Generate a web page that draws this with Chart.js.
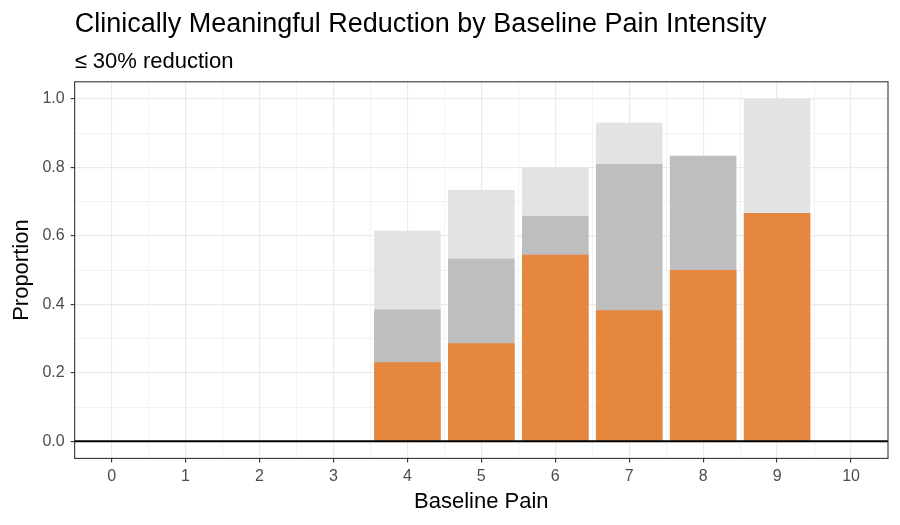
<!DOCTYPE html>
<html>
<head>
<meta charset="utf-8">
<script src="https://cdn.jsdelivr.net/npm/chart.js@4.4.1/dist/chart.umd.min.js"></script>
<style>
  body { margin: 0; background: #fff; }
  #wrap { width: 900px; height: 525px; }
</style>
</head>
<body>
<div id="wrap"><canvas id="painChart" width="900" height="525"></canvas></div>
<script>
// baseline pain scores that have bars
const painLevels = [4, 5, 6, 7, 8, 9];
// proportions, drawn on top of each other (orange in front)
const orangeVals = [0.231, 0.286, 0.545, 0.383, 0.5, 0.667];
const midGrayVals = [0.385, 0.533, 0.658, 0.81, 0.834, null];
const lightGrayVals = [0.615, 0.734, 0.8, 0.931, null, 1.0];

const xTicks = [0, 1, 2, 3, 4, 5, 6, 7, 8, 9, 10];
const yTicks = [0, 0.2, 0.4, 0.6, 0.8, 1.0];

const FONT = "'Liberation Sans', Arial, sans-serif";

function toPoints(vals) {
  return painLevels.map((p, i) => ({ x: p, y: vals[i] }));
}

// ticks: majors get labels, minors sit halfway between
function majorMinor(majors) {
  const step = majors[1] - majors[0];
  const out = [];
  majors.forEach((v, i) => {
    out.push({ value: v, major: true });
    if (i < majors.length - 1) out.push({ value: v + step / 2, major: false });
  });
  return out;
}

// panel border + zero line like ggplot theme_bw
const panelPlugin = {
  id: 'panel',
  afterDatasetsDraw(chart) {
    const { ctx, chartArea: a, scales } = chart;
    ctx.save();
    const y0 = scales.y.getPixelForValue(0);
    ctx.strokeStyle = '#000';
    ctx.lineWidth = 2;
    ctx.beginPath();
    ctx.moveTo(a.left, y0);
    ctx.lineTo(a.right, y0);
    ctx.stroke();
    ctx.strokeStyle = '#333';
    ctx.lineWidth = 1.1;
    ctx.strokeRect(a.left, a.top, a.right - a.left, a.bottom - a.top);
    ctx.restore();
  }
};

new Chart(document.getElementById('painChart'), {
  type: 'bar',
  data: {
    datasets: [
      { label: 'Orange', data: toPoints(orangeVals), backgroundColor: '#E6873F' },
      { label: 'Mid gray', data: toPoints(midGrayVals), backgroundColor: '#BEBEBE' },
      { label: 'Light gray', data: toPoints(lightGrayVals), backgroundColor: '#E3E3E3' }
    ]
  },
  options: {
    responsive: false,
    animation: false,
    // minor ticks halve the sample spacing, so 1.8 here = 0.9 of a unit
    barPercentage: 1.8,
    categoryPercentage: 1.0,
    layout: { padding: { left: 9, right: 12, top: 0, bottom: 7.6 } },
    plugins: {
      legend: { display: false },
      tooltip: { enabled: false },
      title: {
        display: true,
        text: 'Clinically Meaningful Reduction by Baseline Pain Intensity',
        align: 'start',
        fullSize: false,
        color: '#000',
        font: { family: FONT, size: 27, weight: 'normal' },
        padding: { top: 8, bottom: 8 }
      },
      subtitle: {
        display: true,
        text: '\u2264 30% reduction',
        align: 'start',
        fullSize: false,
        color: '#000',
        font: { family: FONT, size: 22, weight: 'normal' },
        padding: { top: 0, bottom: 7 }
      }
    },
    scales: {
      x: {
        type: 'linear',
        stacked: true,
        offset: false,
        min: -0.5,
        max: 10.5,
        afterBuildTicks: (scale) => { scale.ticks = majorMinor(xTicks); },
        ticks: {
          color: '#4D4D4D',
          font: { family: FONT, size: 16 },
          padding: 5,
          autoSkip: false,
          maxRotation: 0,
          callback: function (v, i, ticks) { return ticks[i].major ? String(v) : ''; }
        },
        grid: {
          offset: false,
          color: '#EBEBEB',
          lineWidth: (c) => (c.tick && c.tick.major ? 1.2 : 0.6),
          tickColor: (c) => (c.tick && c.tick.major ? '#333' : 'rgba(0,0,0,0)'),
          tickLength: 4,
          tickWidth: 1.1
        },
        border: { display: false },
        title: {
          display: true,
          text: 'Baseline Pain',
          color: '#000',
          font: { family: FONT, size: 22, lineHeight: 1.4 },
          padding: { top: -5, bottom: 0 }
        }
      },
      y: {
        type: 'linear',
        stacked: false,
        min: -0.05,
        max: 1.05,
        afterBuildTicks: (scale) => { scale.ticks = majorMinor(yTicks); },
        ticks: {
          color: '#4D4D4D',
          font: { family: FONT, size: 16 },
          padding: 6,
          autoSkip: false,
          callback: function (v, i, ticks) { return ticks[i].major ? v.toFixed(1) : ''; }
        },
        grid: {
          color: '#EBEBEB',
          lineWidth: (c) => (c.tick && c.tick.major ? 1.2 : 0.6),
          tickColor: (c) => (c.tick && c.tick.major ? '#333' : 'rgba(0,0,0,0)'),
          tickLength: 4,
          tickWidth: 1.1
        },
        border: { display: false },
        title: {
          display: true,
          text: 'Proportion',
          color: '#000',
          font: { family: FONT, size: 22 },
          padding: { top: 0, bottom: 1 }
        }
      }
    }
  },
  plugins: [panelPlugin]
});
</script>
</body>
</html>
